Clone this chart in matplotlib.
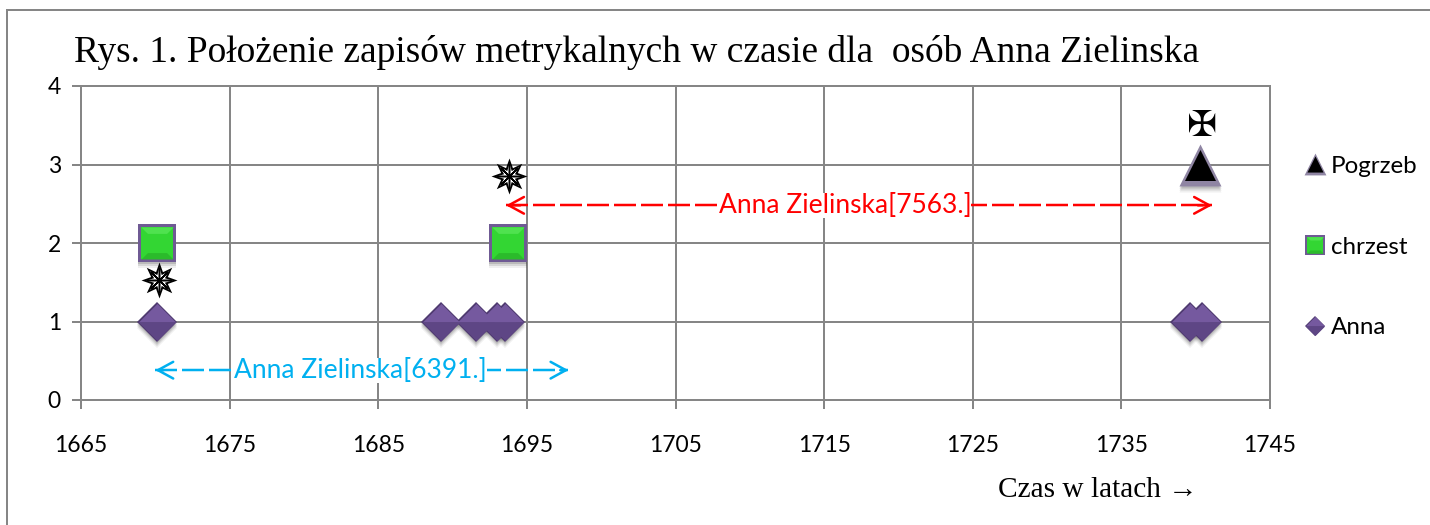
import matplotlib
matplotlib.use('Agg')
import matplotlib.pyplot as plt
from matplotlib.legend_handler import HandlerTuple
from matplotlib.lines import Line2D
from matplotlib.path import Path
from matplotlib.transforms import offset_copy

# Dane
anna_years = [1670.1, 1689.2, 1691.6, 1693.0, 1693.5, 1739.6, 1740.4]
anna_values = [1, 1, 1, 1, 1, 1, 1]
chrzest_years = [1670.1, 1693.7]
chrzest_values = [2, 2]
pogrzeb_years = [1740.3]
pogrzeb_values = [3]

star_years = [1670.25, 1693.8]
star_values = [1.53, 2.85]
cross_year = 1740.4
cross_value = 3.49

x_ticks = [1665, 1675, 1685, 1695, 1705, 1715, 1725, 1735, 1745]
y_ticks = [0, 1, 2, 3, 4]

red_span = [1693.6, 1741.1]
red_value = 2.48
red_label = 'Anna Zielinska[7563.]'
red_label_x = 1716.4
blue_span = [1670.0, 1697.8]
blue_value = 0.38
blue_label = 'Anna Zielinska[6391.]'
blue_label_x = 1683.8

title = 'Rys. 1. Położenie zapisów metrykalnych w czasie dla  osób Anna Zielinska'
x_label = 'Czas w latach →'

GRID = '#868686'
RED = '#ff0000'
BLUE = '#00b0f0'
PX = 0.72  # 1 px w punktach przy dpi=100

# Kształty ścianek markerów
UPPER_DIAMOND = [(-1, 0), (0, 1), (1, 0)]
LOWER_DIAMOND = [(-1, 0), (0, -1), (1, 0)]
TOP_BEVEL = [(-1, 1), (1, 1), (0.6, 0.6), (-0.6, 0.6)]
BOTTOM_BEVEL = [(-1, -1), (1, -1), (0.6, -0.6), (-0.6, -0.6)]
TRIANGLE = [(-1, -1), (1, -1), (0, 1)]

# (marker, rozmiar w px, kolor)
DIAMOND_LAYERS = [
    ('D', 28, '#4f3a70'),
    (UPPER_DIAMOND, 37, '#75599f'),
    (LOWER_DIAMOND, 37, '#5e4685'),
]
SQUARE_LAYERS = [
    ('s', 38, '#6f5a94'),
    ('s', 32, '#33d633'),
    (TOP_BEVEL, 32, '#4fe24f'),
    (BOTTOM_BEVEL, 32, '#2bbb2b'),
]
TRIANGLE_LAYERS = [
    (TRIANGLE, 42, '#8f85a3'),
    (TRIANGLE, 31, '#000000'),
]


def draw_layers(ax, xs, ys, layers, zorder):
    # Miękki cień pod markerem
    base_marker, base_size, _ = layers[0]
    for shift, alpha in [(2, 0.18), (4, 0.14), (6, 0.08)]:
        shadow = offset_copy(ax.transData, fig=ax.figure, y=-shift * PX, units='points')
        ax.plot(xs, ys, linestyle='none', marker=base_marker, ms=base_size * PX, mew=0,
                color='#404040', alpha=alpha, transform=shadow, zorder=zorder)
    for marker, size, color in layers:
        ax.plot(xs, ys, linestyle='none', marker=marker, ms=size * PX, mew=0,
                color=color, zorder=zorder + 0.1)


def legend_handle(layers, scale):
    return tuple(
        Line2D([], [], linestyle='none', marker=marker, ms=size * scale * PX, mew=0, color=color)
        for marker, size, color in layers
    )


def draw_span(ax, span, value, label, label_x, color, dashes):
    # Linia przerywana z grotami i opisem na białym tle
    ax.plot(span, [value, value], color=color, lw=2.5 * PX, linestyle=(0, dashes), zorder=4)
    for start, end in [(span[1], span[0]), (span[0], span[1])]:
        ax.annotate('', xy=(end, value), xytext=(end + (start - end) * 0.02, value),
                    arrowprops=dict(arrowstyle='->,head_length=1.1,head_width=0.6', color=color,
                                    lw=2.5 * PX, shrinkA=0, shrinkB=0), zorder=5)
    ax.text(label_x, value, label, color=color, fontsize=19, family='Lato', ha='center', va='center',
            bbox=dict(facecolor='white', edgecolor='none', pad=0), zorder=6)


def main() -> None:
    fig = plt.figure(figsize=(14.3, 5.25), dpi=100)
    ax = fig.add_axes([81 / 1430, 1 - 400 / 525, (1270 - 81) / 1430, (400 - 86) / 525])

    # Ramka wokół wykresu, wychodzi poza prawą i dolną krawędź
    fig.add_artist(plt.Rectangle((7 / 1430, -0.1), 1.1, 1.1 - 10 / 525, transform=fig.transFigure,
                                 facecolor='none', edgecolor=GRID, lw=2 * PX))

    ax.set_xlim(x_ticks[0], x_ticks[-1])
    ax.set_ylim(y_ticks[0], y_ticks[-1])
    ax.set_xticks(x_ticks)
    ax.set_yticks(y_ticks)
    ax.grid(True, color=GRID, lw=2 * PX, zorder=0)
    ax.set_axisbelow(True)
    ax.tick_params(length=6.5, width=2 * PX, color=GRID, labelsize=16.5, pad=8)
    for lab in ax.get_xticklabels() + ax.get_yticklabels():
        lab.set_family('Lato')
    ax.tick_params(axis='x', pad=19)
    for spine in ax.spines.values():
        spine.set_color(GRID)
        spine.set_linewidth(2 * PX)

    draw_layers(ax, anna_years, anna_values, DIAMOND_LAYERS, 3)
    draw_layers(ax, chrzest_years, chrzest_values, SQUARE_LAYERS, 3)
    draw_layers(ax, pogrzeb_years, pogrzeb_values, TRIANGLE_LAYERS, 3)

    # Gwiazdki przy chrzcie i krzyż przy pogrzebie
    outer_star = Path.unit_regular_star(8, innerCircle=0.5)
    inner_star = Path.unit_regular_star(8, innerCircle=0.45)
    ax.plot(star_years, star_values, linestyle='none', marker=outer_star, ms=36 * PX, mew=0, color='black', zorder=5)
    ax.plot(star_years, star_values, linestyle='none', marker=inner_star, ms=26 * PX, mew=0, color='white', zorder=5.1)
    ax.plot(star_years, star_values, linestyle='none', marker=(8, 2, 0), ms=24 * PX, mew=1.5 * PX, color='black', zorder=5.2)
    ax.text(cross_year, cross_value, '\u2720', family='DejaVu Sans', fontsize=26, ha='center', va='center',
            color='black', zorder=5)

    draw_span(ax, red_span, red_value, red_label, red_label_x, RED, (8.8, 2))
    draw_span(ax, blue_span, blue_value, blue_label, blue_label_x, BLUE, (8.8, 2))

    fig.text(74 / 1430, 1 - 52 / 525, title, family='Liberation Serif', fontsize=26.9, va='center', color='black')
    fig.text(998 / 1430, 1 - 490 / 525, x_label, family='Liberation Serif', fontsize=21.2, va='center', color='black')

    handles = [legend_handle(TRIANGLE_LAYERS, 0.52), legend_handle(SQUARE_LAYERS, 0.52), legend_handle(DIAMOND_LAYERS, 0.52)]
    fig.legend(handles, ['Pogrzeb', 'chrzest', 'Anna'],
               handler_map={tuple: HandlerTuple(ndivide=1, pad=0)},
               loc='center left', bbox_to_anchor=(1303 / 1430, 1 - 247 / 525), frameon=False,
               prop={'family': 'Lato', 'size': 17.4}, labelspacing=2.465, handlelength=1.0,
               handletextpad=0.15, borderpad=0, borderaxespad=0)

    fig.savefig('out.png', dpi=100)


if __name__ == '__main__':
    main()
